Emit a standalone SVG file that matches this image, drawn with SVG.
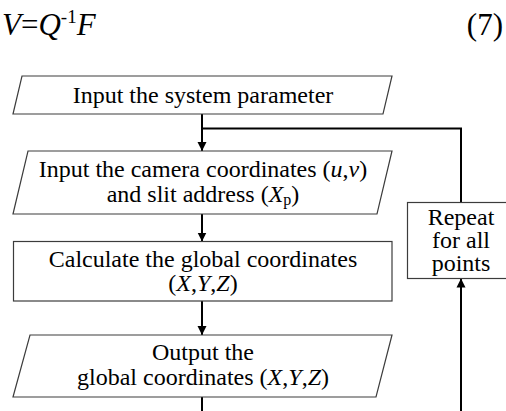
<svg xmlns="http://www.w3.org/2000/svg" width="506" height="411" viewBox="0 0 506 411">
  <defs>
    <marker id="arrow" viewBox="0 0 10 10" refX="10" refY="5" markerWidth="9" markerHeight="10" markerUnits="userSpaceOnUse" orient="auto">
      <path d="M0,0 L10,5 L0,10 Z" fill="#000"/>
    </marker>
    <style>
      .shape { fill: #fff; stroke: #3c3c3c; stroke-width: 1.2; }
      .link { fill: none; stroke: #000; stroke-width: 2; }
      .txt { font-family: "Liberation Serif", "Times New Roman", serif; font-size: 24px; fill: #000; text-anchor: middle; }
      .eq { font-family: "Liberation Serif", "Times New Roman", serif; font-size: 31px; fill: #000; }
      .it { font-style: italic; }
    </style>
  </defs>
  <rect width="506" height="411" fill="#fff"/>

  <!-- equation heading -->
  <text class="eq" x="2" y="35"><tspan class="it">V</tspan>=<tspan class="it">Q</tspan><tspan font-size="19" dy="-12">-1</tspan><tspan class="it" dy="12">F</tspan></text>
  <text class="eq" x="503" y="35" text-anchor="end">(7)</text>

  <!-- connectors -->
  <g id="connectors">
    <line class="link" x1="202" y1="114" x2="202" y2="151" marker-end="url(#arrow)"/>
    <polyline class="link" points="202,128.5 461,128.5 461,202.5"/>
    <line class="link" x1="202" y1="214" x2="202" y2="241.5" marker-end="url(#arrow)"/>
    <line class="link" x1="202" y1="301" x2="202" y2="335" marker-end="url(#arrow)"/>
    <line class="link" x1="202" y1="397" x2="202" y2="420"/>
    <line class="link" x1="461" y1="420" x2="461" y2="278.5" marker-end="url(#arrow)"/>
  </g>

  <g id="input-params">
    <polygon class="shape" points="22,76 392,76 383,114 13,114"/>
    <text class="txt" x="203" y="103">Input the system parameter</text>
  </g>

  <g id="input-camera">
    <polygon class="shape" points="28,151 392,151 377,214 13,214"/>
    <text class="txt" x="203" y="177">Input the camera coordinates (<tspan class="it">u</tspan>,<tspan class="it">v</tspan>)</text>
    <text class="txt" x="203" y="202">and slit address (<tspan class="it">X</tspan><tspan font-size="16" dy="3">p</tspan><tspan dy="-3">)</tspan></text>
  </g>

  <g id="calculate">
    <rect class="shape" x="13.5" y="241.5" width="378.5" height="59.5"/>
    <text class="txt" x="203" y="267">Calculate the global coordinates</text>
    <text class="txt" x="203" y="291">(<tspan class="it">X</tspan>,<tspan class="it">Y</tspan>,<tspan class="it">Z</tspan>)</text>
  </g>

  <g id="output">
    <polygon class="shape" points="30,335 392,335 376,397 13,397"/>
    <text class="txt" x="203" y="360">Output the</text>
    <text class="txt" x="203" y="385">global coordinates (<tspan class="it">X</tspan>,<tspan class="it">Y</tspan>,<tspan class="it">Z</tspan>)</text>
  </g>

  <g id="repeat">
    <rect class="shape" x="407.5" y="202.5" width="110" height="76"/>
    <text class="txt" x="461" y="225">Repeat</text>
    <text class="txt" x="461" y="248">for all</text>
    <text class="txt" x="461" y="271">points</text>
  </g>
</svg>
